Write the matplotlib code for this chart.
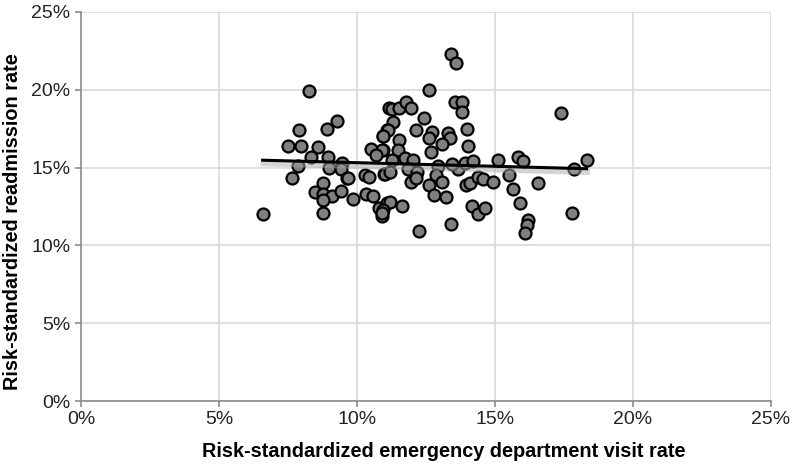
import numpy as np
import matplotlib
matplotlib.use('Agg')
import matplotlib.pyplot as plt
import matplotlib.patheffects as pe
from matplotlib.ticker import FuncFormatter

# risk-standardized ED visit rate (%), readmission rate (%)
ed_rate = [8.27, 9.29, 8.92, 7.91, 7.51, 7.97, 8.60, 8.33, 8.95, 9.46, 7.87, 8.99, 9.42,
           7.66, 9.62, 8.76, 8.48, 8.76, 9.08, 9.41, 8.76, 8.78, 9.87, 6.58, 10.33, 10.57,
           10.29, 10.45, 10.50, 10.93, 11.07, 11.15, 10.95, 10.98, 10.80, 10.90, 11.10,
           13.40, 13.60, 12.60, 11.28, 11.53, 11.78, 11.95, 13.55, 13.79, 13.79, 12.44,
           11.32, 11.13, 10.95, 12.14, 12.73, 12.61, 13.31, 13.37, 13.09, 14.00, 11.53,
           11.50, 12.68, 14.01, 10.90, 11.26, 11.74, 12.04, 12.95, 13.65, 13.90, 14.21,
           15.12, 15.84, 16.00, 11.01, 11.20, 11.86, 12.16, 11.95, 12.14, 12.86, 13.07,
           12.62, 12.80, 13.22, 13.95, 14.10, 14.40, 14.58, 14.94, 15.52, 15.64, 15.90,
           16.20, 16.15, 16.10, 14.15, 14.37, 14.64, 11.20, 11.62, 10.95, 10.90, 12.25,
           13.40, 16.57, 17.39, 18.32, 17.86, 17.78, 9.68, 10.70, 13.45]
readmit = [19.90, 18.00, 17.50, 17.40, 16.40, 16.40, 16.30, 15.70, 15.70, 15.30, 15.10, 15.00, 14.90,
           14.30, 14.30, 14.00, 13.40, 13.30, 13.20, 13.50, 12.90, 12.10, 13.00, 12.00, 13.30, 13.20,
           14.50, 14.40, 16.20, 17.00, 17.40, 18.80, 16.10, 14.60, 12.40, 11.90, 12.75,
           22.30, 21.70, 20.00, 18.76, 18.80, 19.20, 18.80, 19.20, 19.20, 18.60, 18.20,
           17.90, 17.40, 17.00, 17.40, 17.30, 16.90, 17.20, 16.90, 16.50, 17.50, 16.80,
           16.10, 16.00, 16.40, 16.10, 15.50, 15.60, 15.50, 15.10, 14.90, 15.30, 15.45,
           15.50, 15.70, 15.40, 14.60, 14.70, 14.90, 14.70, 14.10, 14.30, 14.50, 14.10,
           13.90, 13.25, 13.10, 13.90, 14.00, 14.40, 14.25, 14.10, 14.50, 13.60, 12.70,
           11.60, 11.30, 10.80, 12.50, 12.00, 12.40, 12.80, 12.50, 12.30, 12.10, 10.95,
           11.40, 14.00, 18.50, 15.50, 14.90, 12.07, 14.30, 15.80, 15.20]

x = np.array(ed_rate)
y = np.array(readmit)

plt.rcParams['font.family'] = ['Liberation Sans', 'DejaVu Sans']

fig = plt.figure(figsize=(8, 4.71), dpi=100)
ax = fig.add_axes([0.10125, 0.1486, 0.8625, 0.826])

ax.scatter(x, y, s=74, facecolor='#7f7f7f', edgecolor='black', linewidth=1.6, zorder=3)

# linear trend line
k, b = np.polyfit(x, y, 1)
xs = np.array([x.min(), x.max()])
ax.plot(xs, k * xs + b, color='black', lw=2.2, zorder=4,
        path_effects=[pe.SimpleLineShadow(offset=(0.5, -2.5), shadow_color='#aaaaaa', alpha=0.5, linewidth=4),
                      pe.Normal()])

ax.set_xlim(0, 25)
ax.set_ylim(0, 25)
ticks = [0, 5, 10, 15, 20, 25]
ax.set_xticks(ticks)
ax.set_yticks(ticks)
pct = FuncFormatter(lambda v, p: f'{v:.0f}%')
ax.xaxis.set_major_formatter(pct)
ax.yaxis.set_major_formatter(pct)
ax.grid(True, color='#d9d9d9', lw=1.2)
ax.set_axisbelow(True)
for s in ['top', 'right']:
    ax.spines[s].set_visible(False)
for s in ['left', 'bottom']:
    ax.spines[s].set_color('#8c8c8c')
    ax.spines[s].set_linewidth(1.2)
ax.tick_params(colors='#8c8c8c', labelcolor='#222222', labelsize=14, length=4, width=1.2)

ax.set_xlabel('Risk-standardized emergency department visit rate', fontsize=14.3, fontweight='bold')
ax.set_ylabel('Risk-standardized readmission rate', fontsize=14.3, fontweight='bold')
ax.xaxis.set_label_coords(0.525, -0.105)
ax.yaxis.set_label_coords(-0.086, 0.46)

fig.savefig('out.png', dpi=100)
